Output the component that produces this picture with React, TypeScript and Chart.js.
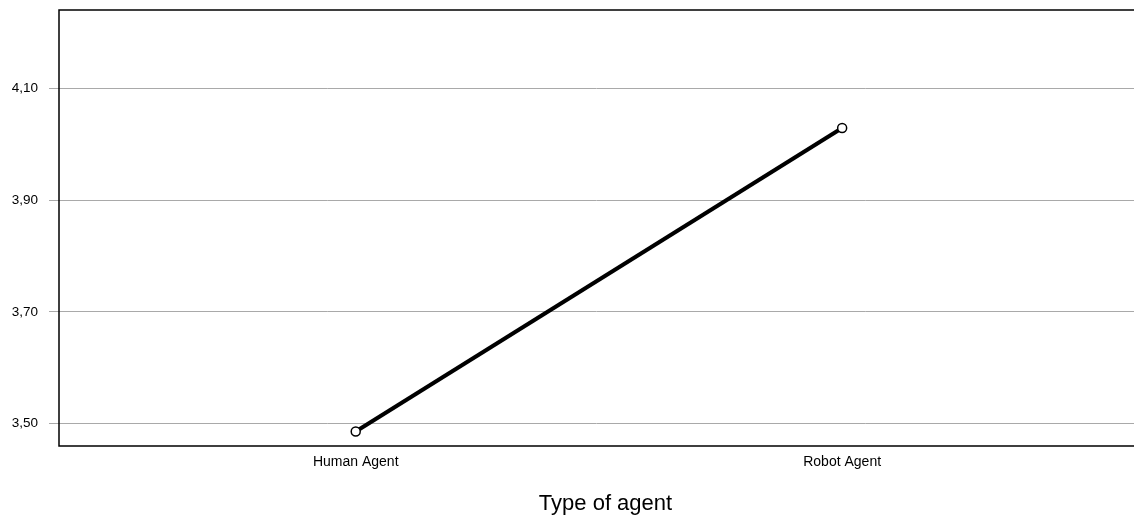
import React, { useEffect, useRef } from "react";
import { Chart, registerables } from "chart.js";

Chart.register(...registerables);

const categories = ["Human Agent", "Robot Agent"];
const meanValues = [3.486, 4.029];
const yTickValues = [3.5, 3.7, 3.9, 4.1];
const xAxisTitle = "Type of agent";

const FONT = "'Liberation Sans', Arial, sans-serif";

const framePlugin = {
  id: "frame",
  afterDatasetsDraw(chart: any) {
    const { ctx, chartArea } = chart;
    ctx.save();
    ctx.strokeStyle = "#000";
    ctx.lineWidth = 1.5;
    ctx.beginPath();
    ctx.moveTo(chart.width, chartArea.top);
    ctx.lineTo(chartArea.left, chartArea.top);
    ctx.lineTo(chartArea.left, chartArea.bottom);
    ctx.lineTo(chart.width, chartArea.bottom);
    ctx.stroke();
    // x-axis title
    ctx.fillStyle = "#000";
    ctx.font = `22px ${FONT}`;
    ctx.textAlign = "center";
    ctx.textBaseline = "alphabetic";
    ctx.fillText(xAxisTitle, (chartArea.left + chart.width) / 2 + 9, chartArea.bottom + 64);
    ctx.restore();
  },
};

export default function App() {
  const ref = useRef<HTMLCanvasElement | null>(null);
  useEffect(() => {
    if (!ref.current) return;
    const data = meanValues.map((v, i) => ({ x: i + 1, y: v }));
    const chart = new Chart(ref.current, {
      type: "line",
      data: {
        datasets: [
          {
            data,
            borderColor: "#000",
            borderWidth: 4,
            pointRadius: 4.5,
            pointBorderWidth: 1.5,
            pointBackgroundColor: "#fff",
            pointBorderColor: "#000",
            tension: 0,
          },
        ],
      },
      options: {
        animation: false,
        responsive: false,
        layout: { autoPadding: false, padding: { top: 10, left: 0, right: 0, bottom: 0 } },
        plugins: { legend: { display: false }, tooltip: { enabled: false } },
        scales: {
          x: {
            type: "linear",
            min: 0.39,
            max: 2.6,
            afterBuildTicks: (scale: any) => {
              scale.ticks = categories.map((_, i) => ({ value: i + 1 }));
            },
            afterFit: (scale: any) => {
              scale.height = 70;
              scale.paddingLeft = 0;
              scale.paddingRight = 0;
            },
            grid: { display: false, drawTicks: false },
            border: { display: false },
            ticks: {
              color: "#000",
              font: { family: FONT, size: 14 },
              padding: 8,
              maxRotation: 0,
              autoSkip: false,
              callback: (v: any) => categories[Math.round(v) - 1] ?? "",
            },
          },
          y: {
            min: 3.46,
            max: 4.24,
            afterBuildTicks: (scale: any) => {
              scale.ticks = yTickValues.map((v) => ({ value: v }));
            },
            afterFit: (scale: any) => {
              scale.width = 59;
              scale.paddingTop = 0;
              scale.paddingBottom = 0;
            },
            grid: { color: "#a9a9a9", lineWidth: 1, tickLength: 10, drawTicks: true },
            border: { display: false },
            ticks: {
              color: "#000",
              font: { family: FONT, size: 13.5 },
              padding: 11,
              callback: (v: any) => Number(v).toFixed(2).replace(".", ","),
            },
          },
        },
      },
      plugins: [framePlugin],
    } as any);
    return () => chart.destroy();
  }, []);
  return (
    <div style={{ position: "absolute", left: 0, top: 0, width: 1134, height: 516, background: "#fff" }}>
      <canvas ref={ref} width={1134} height={516} />
    </div>
  );
}
